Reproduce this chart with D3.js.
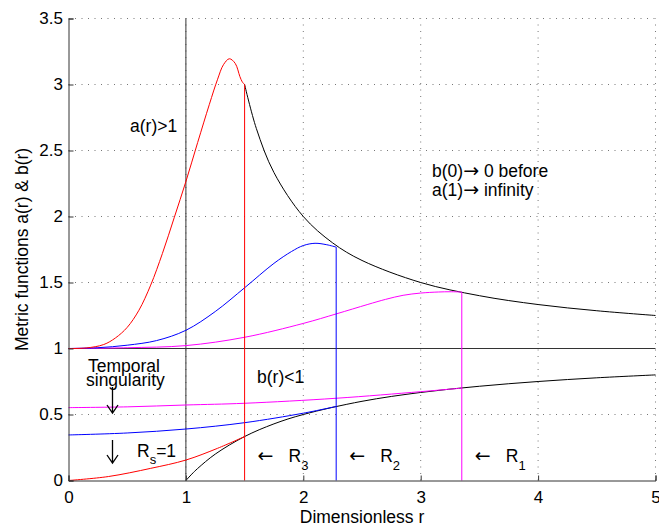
<!DOCTYPE html>
<html lang="en">
  <head>
    <meta charset="utf-8">
    <title>metric functions</title>
    <style>
      body { margin: 0; background: #fff; }
      text { font-family: "Liberation Sans", Arial, sans-serif; fill: #000; }
    </style>
  </head>
  <body>

<script src="https://cdn.jsdelivr.net/npm/d3@7"></script>

<script>

// values, [r, value]
var aRed  = [[0,1],[0.15,1.004],[0.3,1.03],[0.4,1.08],[0.5,1.16],[0.6,1.29],[0.7,1.48],[0.8,1.72],[0.9,1.99],[1.0,2.265],[1.1,2.56],[1.2,2.85],[1.27,3.04],[1.32,3.15],[1.37,3.195],[1.42,3.16],[1.46,3.06],[1.48,3.02],[1.5,3.0]];
var aBlue = [[0,1],[0.25,1.006],[0.5,1.025],[0.75,1.06],[1.0,1.138],[1.25,1.28],[1.5,1.46],[1.75,1.645],[1.9,1.735],[2.0,1.78],[2.1,1.797],[2.2,1.786],[2.28,1.768]];
var aMag  = [[0,1],[0.5,1.006],[1.0,1.022],[1.5,1.085],[2.0,1.19],[2.28,1.262],[2.55,1.334],[2.7,1.372],[2.85,1.403],[3.0,1.42],[3.15,1.428],[3.25,1.43],[3.35,1.428]];
var aExt  = [[1.5,3.0],[1.6,2.667],[1.75,2.333],[2,2],[2.25,1.8],[2.5,1.667],[3,1.5],[3.5,1.4],[4,1.333],[4.5,1.286],[5,1.25]];

var bRed  = [[0,0],[0.34,0.03],[0.7,0.092],[1.0,0.155],[1.27,0.244],[1.5,0.333]];
var bBlue = [[0,0.345],[0.5,0.36],[1.0,0.39],[1.5,0.438],[2.0,0.51],[2.28,0.561]];
var bMag  = [[0,0.552],[0.5,0.558],[1.0,0.572],[1.5,0.585],[2.28,0.623],[3.0,0.673],[3.35,0.70]];
var bExt  = [[1,0],[1.05,0.048],[1.1,0.091],[1.25,0.2],[1.5,0.333],[1.75,0.429],[2,0.5],[2.5,0.6],[3,0.667],[3.5,0.714],[4,0.75],[4.5,0.778],[5,0.8]];

var radii = [1.5, 2.28, 3.35];   // R3, R2, R1
var radiiTop = [3.0, 1.768, 1.428];
var radiiNames = ["3", "2", "1"];
var xTicks = [0, 1, 2, 3, 4, 5];
var yTicks = [0, 0.5, 1, 1.5, 2, 2.5, 3, 3.5];

var svg = d3.select("body").append("svg")
            .attr("width", 659)
            .attr("height", 527);

var x = d3.scaleLinear().domain([0, 5]).range([68.5, 655.5]);
var y = d3.scaleLinear().domain([0, 3.5]).range([480.5, 18.5]);

//grid
svg.append("g").selectAll("line").data(xTicks.slice(1)).enter().append("line")
   .attr("x1", d => x(d)).attr("x2", d => x(d))
   .attr("y1", y(0)).attr("y2", y(3.5))
   .attr("stroke", "#777").attr("stroke-width", 1)
   .attr("stroke-dasharray", "1,5.5");
svg.append("g").selectAll("line").data(yTicks.slice(1)).enter().append("line")
   .attr("x1", x(0)).attr("x2", x(5))
   .attr("y1", d => y(d)).attr("y2", d => y(d))
   .attr("stroke", "#777").attr("stroke-width", 1)
   .attr("stroke-dasharray", "1,5.5");

//reference lines r=1 and value=1
svg.append("line").attr("x1", x(1)).attr("x2", x(1)).attr("y1", y(0)).attr("y2", y(3.5))
   .attr("stroke", "#333").attr("stroke-width", 1);
svg.append("line").attr("x1", x(0)).attr("x2", x(5)).attr("y1", y(1)).attr("y2", y(1))
   .attr("stroke", "#333").attr("stroke-width", 1);

//curves
var line = d3.line().x(d => x(d[0])).y(d => y(d[1])).curve(d3.curveCatmullRom.alpha(0.5));
var curves = [
  [aExt, "#000"], [bExt, "#000"],
  [aMag, "#ff00ff"], [bMag, "#ff00ff"],
  [aBlue, "#0000ff"], [bBlue, "#0000ff"],
  [aRed, "#ff0000"], [bRed, "#ff0000"]
];
curves.forEach(function(c) {
  svg.append("path").attr("d", line(c[0]))
     .attr("fill", "none").attr("stroke", c[1]).attr("stroke-width", 1);
});

//star radii
var rColors = ["#ff0000", "#0000ff", "#ff00ff"];
radii.forEach(function(r, i) {
  svg.append("line").attr("x1", x(r)).attr("x2", x(r))
     .attr("y1", y(0)).attr("y2", y(radiiTop[i]))
     .attr("stroke", rColors[i]).attr("stroke-width", 1);
});

//axes
var xAxis = d3.axisBottom(x).tickValues(xTicks).tickSize(-5).tickPadding(10.5).tickFormat(d3.format("d"));
var gx = svg.append("g").attr("transform", "translate(0," + y(0) + ")").call(xAxis);
var yAxis = d3.axisLeft(y).tickValues(yTicks).tickSize(-5).tickPadding(5.5).tickFormat(d => d);
var gy = svg.append("g").attr("transform", "translate(" + x(0) + ",0)").call(yAxis);
[gx, gy].forEach(function(g) {
  g.select(".domain").attr("stroke", "#333");
  g.selectAll(".tick line").attr("stroke", "#333");
  g.selectAll(".tick text").attr("font-size", 17).attr("font-family", "Liberation Sans, Arial, sans-serif").attr("fill", "#000");
});

svg.append("text").attr("x", (x(0) + x(5)) / 2).attr("y", 523)
   .attr("text-anchor", "middle").attr("font-size", 17.5).text("Dimensionless r");
svg.append("text").attr("transform", "translate(28," + ((y(0) + y(3.5)) / 2) + ") rotate(-90)")
   .attr("text-anchor", "middle").attr("font-size", 17.5)
   .text("Metric functions a(r) & b(r)");

//annotations
function label(tx, ty, s, size) {
  return svg.append("text").attr("x", tx).attr("y", ty).attr("font-size", size || 17.5).text(s);
}
function arrowText(t, ch) {
  t.append("tspan").attr("font-family", "DejaVu Sans").attr("font-size", 19).text(ch);
}
label(130, 132, "a(r)>1");
var t1 = label(432, 177, "b(0)");
arrowText(t1, "\u2192");
t1.append("tspan").text(" 0 before");
var t2 = label(432, 196, "a(1)");
arrowText(t2, "\u2192");
t2.append("tspan").text(" infinity");
label(88, 372, "Temporal");
label(86, 386, "singularity");
label(257, 383, "b(r)<1");

// down arrows
[[387, 413], [440, 463]].forEach(function(a) {
  svg.append("path")
     .attr("d", "M112.5," + a[0] + "V" + a[1] + "M107," + (a[1] - 8) + "L112.5," + a[1] + "L118," + (a[1] - 8))
     .attr("fill", "none").attr("stroke", "#000").attr("stroke-width", 1.3);
});

var rs = label(137, 457, "R");
rs.append("tspan").attr("dy", 7).attr("font-size", 13).text("s");
rs.append("tspan").attr("dy", -7).text("=1");

radii.forEach(function(r, i) {
  var ax = x(r) + 13;
  var a = label(ax, 462, "");
  arrowText(a, "\u2190");
  var t = label(ax + 31, 462, "R");
  t.append("tspan").attr("dy", 8).attr("font-size", 13).text(radiiNames[i]);
});

</script>

  </body>
</html>
